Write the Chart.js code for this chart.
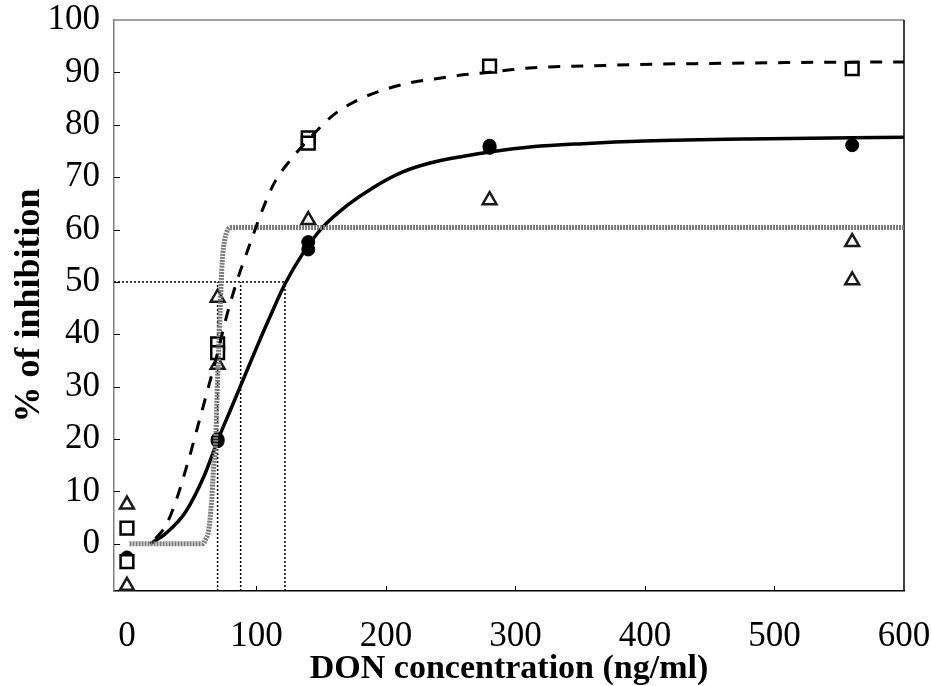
<!DOCTYPE html>
<html>
<head>
<meta charset="utf-8">
<script src="https://cdn.jsdelivr.net/npm/chart.js@4.4.1/dist/chart.umd.min.js"></script>
<style>
  html, body { margin: 0; padding: 0; background: #fff; }
</style>
</head>
<body>
<canvas id="chart" width="931" height="686"></canvas>
<script>
// measured replicates (% of inhibition) at each DON concentration
const circleX   = [0, 0, 70, 70, 140, 140, 280, 280, 560];
const circleY   = [-2.6, -3.2, 20, 19.6, 57.6, 56.2, 76, 75.6, 76.1];
const squareX   = [0, 0, 70, 70, 140, 140, 280, 560];
const squareY   = [3, -3.4, 38.2, 36.5, 77.5, 76.5, 91.2, 90.7];
const triangleX = [0, 0, 70, 70, 140, 280, 560, 560];
const triangleY = [7.5, -8, 47, 34.2, 61.8, 65.6, 57.6, 50.3];

// fitted curves
const solidX  = [18, 30, 45, 60, 70, 80, 90, 100, 110, 122, 136, 151, 170, 190, 213, 234, 260, 280, 313, 352, 400, 480, 600];
const solidY  = [0, 2, 6, 13.2, 19.7, 25.6, 31.5, 37.4, 43.1, 49.6, 55.5, 60.4, 64.6, 68, 71, 72.7, 74, 74.8, 75.8, 76.4, 76.9, 77.3, 77.6];
const dashedX = [22, 30, 37, 47, 54, 63, 70, 77, 84.7, 91, 97.5, 105, 114, 126, 141, 159, 178, 200, 218.5, 236, 255.6, 275, 293, 313.5, 334, 352, 391, 450, 520, 600];
const dashedY = [1, 3.5, 7.6, 15.5, 21.8, 30, 36.5, 43.5, 50, 54.5, 59, 64, 69, 73.2, 77.4, 81.8, 84.7, 86.8, 88, 88.7, 89.4, 89.9, 90.4, 90.9, 91.1, 91.2, 91.5, 91.7, 91.9, 92];
const grayX   = [2, 58.5, 61, 63, 65.4, 66.6, 68.5, 69.3, 70.5, 72, 73.6, 75.5, 78, 81, 600];
const grayY   = [0, 0, 1, 2.5, 8.2, 13.4, 19.7, 26, 35, 45, 54, 58, 60, 60.4, 60.4];

// 50 % inhibition level and the concentrations where each curve reaches it
const halfLevel = 50;
const ic50X = [70, 87.8, 122];

const xMin = -10, xMax = 600;
const yMin = -9, yMax = 100;
const xTicks = [];
for (let v = 0; v <= xMax; v += 20) xTicks.push(v);
const yTicks = [];
for (let v = 0; v <= yMax; v += 10) yTicks.push(v);

const toXY = (xs, ys) => xs.map((x, i) => ({ x: x, y: ys[i] }));

const refLines = [
  { data: [{ x: xMin, y: halfLevel }, { x: Math.max(...ic50X), y: halfLevel }] },
  ...ic50X.map(x => ({ data: [{ x: x, y: yMin }, { x: x, y: halfLevel }] }))
].map(d => ({
  type: 'line',
  data: d.data,
  borderColor: '#000',
  borderWidth: 1.5,
  borderDash: [2, 2],
  pointRadius: 0,
  order: 7
}));

const serif = "'Liberation Serif', 'Times New Roman', serif";

// frame on top/right plus short inward tick marks
const framePlugin = {
  id: 'frame',
  beforeDatasetsDraw(chart) {
    const { ctx, chartArea: a, scales } = chart;
    ctx.save();
    ctx.lineWidth = 1.5;
    ctx.strokeStyle = '#808080';
    ctx.beginPath();
    ctx.moveTo(a.left, a.top);
    ctx.lineTo(a.right, a.top);
    ctx.stroke();
    ctx.strokeStyle = '#000';
    ctx.beginPath();
    ctx.moveTo(a.right, a.top);
    ctx.lineTo(a.right, a.bottom);
    ctx.stroke();

    ctx.lineWidth = 1;
    ctx.beginPath();
    scales.x.ticks.forEach(t => {
      if (t.value >= xMax) return;
      const px = Math.round(scales.x.getPixelForValue(t.value)) + 0.5;
      ctx.moveTo(px, a.bottom);
      ctx.lineTo(px, a.bottom - 5);
    });
    scales.y.ticks.forEach(t => {
      if (t.value >= yMax) return;
      const py = Math.round(scales.y.getPixelForValue(t.value)) + 0.5;
      ctx.moveTo(a.left, py);
      ctx.lineTo(a.left + 6, py);
    });
    ctx.stroke();
    ctx.restore();
  }
};

new Chart(document.getElementById('chart'), {
  type: 'scatter',
  data: {
    datasets: [
      {
        type: 'line',
        data: toXY(dashedX, dashedY),
        borderColor: '#000',
        borderWidth: 3,
        borderDash: [12, 11],
        pointRadius: 0,
        cubicInterpolationMode: 'monotone',
        order: 1
      },
      {
        type: 'line',
        data: toXY(grayX, grayY),
        borderColor: '#7a7a7a',
        borderWidth: 5,
        borderDash: [2, 1],
        pointRadius: 0,
        cubicInterpolationMode: 'monotone',
        order: 2
      },
      {
        data: toXY(squareX, squareY),
        pointStyle: 'rect',
        pointRadius: 9,
        backgroundColor: '#fff',
        borderColor: '#000',
        borderWidth: 2.5,
        clip: false,
        order: 3
      },
      {
        data: toXY(circleX, circleY),
        pointStyle: 'circle',
        pointRadius: 6.5,
        backgroundColor: '#000',
        borderColor: '#000',
        borderWidth: 1,
        clip: false,
        order: 4
      },
      {
        data: toXY(triangleX, triangleY),
        pointStyle: 'triangle',
        pointRadius: 8,
        backgroundColor: '#fff',
        borderColor: '#1a1a1a',
        borderWidth: 2.5,
        clip: false,
        order: 5
      },
      {
        type: 'line',
        data: toXY(solidX, solidY),
        borderColor: '#000',
        borderWidth: 3.5,
        pointRadius: 0,
        cubicInterpolationMode: 'monotone',
        order: 6
      },
      ...refLines
    ]
  },
  options: {
    responsive: false,
    animation: false,
    layout: { padding: { top: 20, right: 27, left: 0, bottom: 0 } },
    plugins: {
      legend: { display: false },
      tooltip: { enabled: false }
    },
    scales: {
      x: {
        type: 'linear',
        min: xMin,
        max: xMax,
        afterBuildTicks: s => { s.ticks = xTicks.map(v => ({ value: v })); },
        afterFit: s => {
          s.height = 95;
          s.paddingLeft = 0;
          s.paddingRight = 0;
        },
        grid: { display: false, drawTicks: false },
        border: { color: '#000', width: 1.5 },
        ticks: {
          autoSkip: false,
          maxRotation: 0,
          padding: 25,
          color: '#000',
          font: { family: serif, size: 35 },
          callback: v => (v % 100 === 0 ? String(v) : null)
        },
        title: {
          display: true,
          text: 'DON concentration (ng/ml)',
          color: '#000',
          padding: { top: 0, bottom: 0 },
          font: { family: serif, size: 34, weight: 'bold', lineHeight: 1 }
        }
      },
      y: {
        min: yMin,
        max: yMax,
        afterBuildTicks: s => { s.ticks = yTicks.map(v => ({ value: v })); },
        afterFit: s => {
          s.width = 114;
          s.paddingTop = 0;
          s.paddingBottom = 0;
        },
        grid: { display: false, drawTicks: false },
        border: { color: '#808080', width: 1.5 },
        ticks: {
          padding: 14,
          color: '#000',
          font: { family: serif, size: 35 },
          callback: v => String(v)
        },
        title: {
          display: true,
          text: '% of inhibition',
          color: '#000',
          padding: { top: 8, bottom: 0 },
          font: { family: serif, size: 36, weight: 'bold' }
        }
      }
    }
  },
  plugins: [framePlugin]
});
</script>
</body>
</html>
